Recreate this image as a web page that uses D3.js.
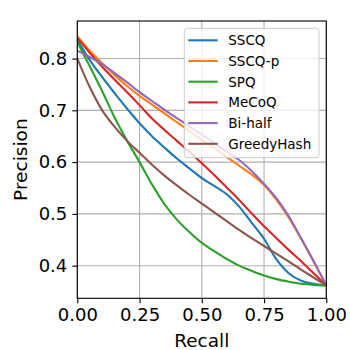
<!DOCTYPE html>
<html>
<head>
<meta charset="utf-8">
<script src="https://cdn.jsdelivr.net/npm/d3@7"></script>
<style>
body { margin: 0; background: #fff; }
text { font-family: "DejaVu Sans", sans-serif; }
</style>
</head>
<body>
<div id="chart"></div>
<script>
let recall = [0, 0.05, 0.1, 0.15, 0.2, 0.25, 0.3, 0.35, 0.4, 0.45, 0.5, 0.55, 0.6, 0.65, 0.7, 0.75, 0.8, 0.85, 0.9, 0.95, 1.0];

let sscq       = [0.836, 0.797, 0.764, 0.733, 0.703, 0.675, 0.650, 0.628, 0.607, 0.588, 0.569, 0.554, 0.538, 0.514, 0.483, 0.452, 0.412, 0.385, 0.371, 0.365, 0.362];
let sscqP      = [0.843, 0.815, 0.791, 0.768, 0.747, 0.728, 0.711, 0.694, 0.677, 0.660, 0.643, 0.627, 0.610, 0.593, 0.576, 0.556, 0.527, 0.492, 0.451, 0.407, 0.362];
let spq        = [0.832, 0.785, 0.737, 0.686, 0.641, 0.600, 0.557, 0.519, 0.489, 0.465, 0.444, 0.428, 0.413, 0.400, 0.390, 0.381, 0.374, 0.369, 0.365, 0.363, 0.362];
let mecoq      = [0.840, 0.811, 0.784, 0.759, 0.735, 0.710, 0.684, 0.662, 0.641, 0.620, 0.598, 0.575, 0.551, 0.527, 0.501, 0.476, 0.453, 0.430, 0.408, 0.385, 0.362];
let biHalf     = [0.815, 0.803, 0.789, 0.772, 0.754, 0.735, 0.718, 0.701, 0.685, 0.669, 0.653, 0.637, 0.620, 0.604, 0.583, 0.558, 0.530, 0.495, 0.452, 0.408, 0.362];
let greedyHash = [0.800, 0.745, 0.700, 0.668, 0.641, 0.618, 0.595, 0.574, 0.555, 0.537, 0.520, 0.503, 0.486, 0.469, 0.453, 0.438, 0.423, 0.408, 0.392, 0.377, 0.362];

let names = ["SSCQ", "SSCQ-p", "SPQ", "MeCoQ", "Bi-half", "GreedyHash"];
let seriesValues = [sscq, sscqP, spq, mecoq, biHalf, greedyHash];
let colors = ["#1f77b4", "#ff7f0e", "#2ca02c", "#d62728", "#9467bd", "#8c564b"];

let xTicks = [0, 0.25, 0.5, 0.75, 1.0];
let yTicks = [0.4, 0.5, 0.6, 0.7, 0.8];

let width = 350, height = 350;
let margin = {left: 77.3, right: 23.7, top: 21, bottom: 51.7};

let x = d3.scaleLinear()
    .domain([0, 1])
    .range([margin.left, width - margin.right]);

let y = d3.scaleLinear()
    .domain([0.337, 0.8725])
    .range([height - margin.bottom, margin.top]);

let svg = d3.select("#chart").append("svg")
    .attr("width", width)
    .attr("height", height);

// grid
svg.append("g")
    .selectAll("line")
    .data(xTicks)
    .enter().append("line")
    .attr("x1", function(d) { return x(d); })
    .attr("x2", function(d) { return x(d); })
    .attr("y1", margin.top)
    .attr("y2", height - margin.bottom)
    .attr("stroke", "#b0b0b0")
    .attr("stroke-width", 1.1);

svg.append("g")
    .selectAll("line")
    .data(yTicks)
    .enter().append("line")
    .attr("x1", margin.left)
    .attr("x2", width - margin.right)
    .attr("y1", function(d) { return y(d); })
    .attr("y2", function(d) { return y(d); })
    .attr("stroke", "#b0b0b0")
    .attr("stroke-width", 1.1);

let line = d3.line()
    .x(function(d) { return x(d[0]); })
    .y(function(d) { return y(d[1]); })
    .curve(d3.curveCatmullRom.alpha(0.5));

svg.append("defs").append("clipPath").attr("id", "clip")
    .append("rect")
    .attr("x", margin.left)
    .attr("y", margin.top)
    .attr("width", width - margin.left - margin.right)
    .attr("height", height - margin.top - margin.bottom);

svg.append("g")
    .attr("clip-path", "url(#clip)")
    .selectAll("path")
    .data(seriesValues)
    .enter().append("path")
    .attr("d", function(vals) { return line(recall.map(function(r, i) { return [r, vals[i]]; })); })
    .attr("fill", "none")
    .attr("stroke", function(d, i) { return colors[i]; })
    .attr("stroke-width", 2.1);

// axes
let xAxis = d3.axisBottom(x)
    .tickValues(xTicks)
    .tickFormat(d3.format(".2f"))
    .tickSize(5)
    .tickPadding(5);

let yAxis = d3.axisLeft(y)
    .tickValues(yTicks)
    .tickFormat(d3.format(".1f"))
    .tickSize(5)
    .tickPadding(5);

let gx = svg.append("g")
    .attr("transform", "translate(0," + (height - margin.bottom) + ")")
    .call(xAxis);

let gy = svg.append("g")
    .attr("transform", "translate(" + margin.left + ",0)")
    .call(yAxis);

[gx, gy].forEach(function(g) {
    g.select(".domain").remove();
    g.selectAll("line").attr("stroke", "#000").attr("stroke-width", 1.1);
    g.selectAll("text")
        .attr("fill", "#000")
        .style("font-family", "DejaVu Sans")
        .style("font-size", "18px");
});

// frame
svg.append("rect")
    .attr("x", margin.left)
    .attr("y", margin.top)
    .attr("width", width - margin.left - margin.right)
    .attr("height", height - margin.top - margin.bottom)
    .attr("fill", "none")
    .attr("stroke", "#000")
    .attr("stroke-width", 1.1);

// axis labels
svg.append("text")
    .attr("x", (x(0) + x(1)) / 2)
    .attr("y", 347)
    .attr("text-anchor", "middle")
    .style("font-size", "18.5px")
    .text("Recall");

svg.append("text")
    .attr("transform", "translate(27," + ((y.range()[0] + y.range()[1]) / 2) + ") rotate(-90)")
    .attr("text-anchor", "middle")
    .style("font-size", "18.5px")
    .text("Precision");

// legend
let legend = svg.append("g")
    .attr("transform", "translate(184.3,28.3)");

legend.append("rect")
    .attr("width", 134.7)
    .attr("height", 129.4)
    .attr("rx", 3)
    .attr("fill", "#fff")
    .attr("fill-opacity", 0.8)
    .attr("stroke", "#cccccc")
    .attr("stroke-width", 1);

let item = legend.selectAll(".item")
    .data(names)
    .enter().append("g")
    .attr("class", "item")
    .attr("transform", function(d, i) { return "translate(0," + (12 + i * 20.7) + ")"; });

item.append("line")
    .attr("x1", 4)
    .attr("x2", 33.4)
    .attr("stroke", function(d, i) { return colors[i]; })
    .attr("stroke-width", 2.1);

item.append("text")
    .attr("x", 44)
    .attr("dy", "0.36em")
    .style("font-size", "13.5px")
    .text(function(d) { return d; });
</script>
</body>
</html>
